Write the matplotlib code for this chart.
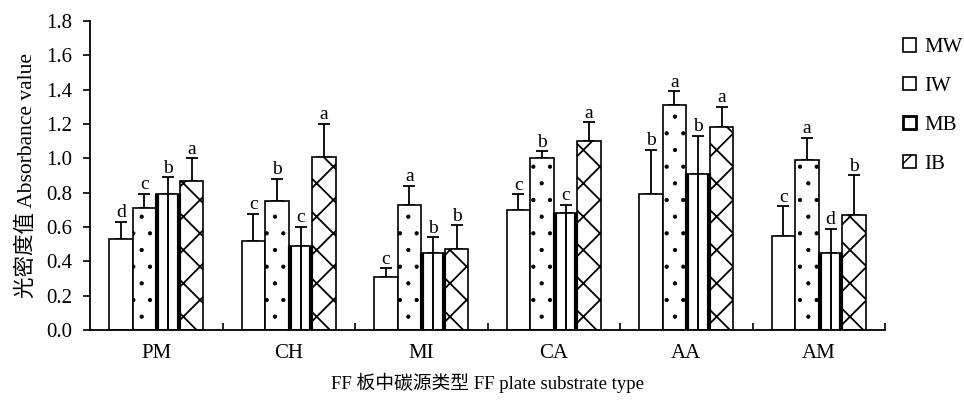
import numpy as np
import matplotlib
matplotlib.use('Agg')
import matplotlib.pyplot as plt
from matplotlib.patches import Patch

plt.rcParams['font.family'] = ['Liberation Serif', 'Noto Sans CJK SC']

# data
categories = ['PM', 'CH', 'MI', 'CA', 'AA', 'AM']
series = ['MW', 'IW', 'MB', 'IB']
mw = [0.53, 0.52, 0.31, 0.70, 0.79, 0.55]
iw = [0.71, 0.75, 0.73, 1.00, 1.31, 0.99]
mb = [0.79, 0.49, 0.45, 0.68, 0.91, 0.45]
ib = [0.87, 1.01, 0.47, 1.10, 1.18, 0.67]
mw_err = [0.10, 0.155, 0.05, 0.09, 0.26, 0.17]
iw_err = [0.085, 0.13, 0.11, 0.04, 0.08, 0.13]
mb_err = [0.10, 0.11, 0.09, 0.05, 0.22, 0.14]
ib_err = [0.13, 0.19, 0.14, 0.11, 0.12, 0.23]
mw_sig = ['d', 'c', 'c', 'c', 'b', 'c']
iw_sig = ['c', 'b', 'a', 'b', 'a', 'a']
mb_sig = ['b', 'c', 'b', 'c', 'b', 'd']
ib_sig = ['a', 'a', 'b', 'a', 'a', 'b']

values = [mw, iw, mb, ib]
errors = [mw_err, iw_err, mb_err, ib_err]
letters = [mw_sig, iw_sig, mb_sig, ib_sig]
hatches = ['', '.', '', 'x']
hatch_lw = [1.0, 0.6, 1.0, 1.3]
legend_hatches = ['', '', '', 'x']

fig = plt.figure(figsize=(9.64, 4.04), dpi=100)
ax = fig.add_axes([90/964, 74/404, 795/964, 309/404])

x = np.arange(len(categories))
width = 0.177
step = 0.178

for i in range(4):
    pos = x + (i - 1.5) * step
    with plt.rc_context({'hatch.linewidth': hatch_lw[i]}):
        ax.bar(pos, values[i], width, color='white', edgecolor='black',
               linewidth=1.2, hatch=hatches[i], zorder=2)
    if series[i] == 'MB':
        # thick side edges plus a middle line
        ax.vlines(pos - width / 2 + 0.008, 0, values[i], color='black', linewidth=3.0, zorder=4)
        ax.vlines(pos + width / 2 - 0.008, 0, values[i], color='black', linewidth=3.0, zorder=4)
        ax.vlines(pos, 0, values[i], color='black', linewidth=1.4, zorder=4)
    ax.errorbar(pos, values[i], yerr=[np.zeros(len(x)), errors[i]], fmt='none',
                ecolor='black', elinewidth=1.3, capsize=4.5, capthick=1.3, zorder=1)
    for p, v, e, s in zip(pos, values[i], errors[i], letters[i]):
        ax.annotate(s, (p, v + e), xytext=(0, 0.5), textcoords='offset points',
                    ha='center', va='bottom', fontsize=14)

ax.set_xlim(-0.5, len(categories) - 0.5)
ax.set_ylim(0, 1.8)
yt = np.arange(0, 1.81, 0.2)
ax.set_yticks(yt)
ax.set_yticklabels([f'{t:.1f}' for t in yt])
ax.set_xticks(x)
ax.set_xticklabels(categories)
ax.set_xticks(np.arange(0.5, len(categories), 1), minor=True)
ax.tick_params(axis='x', which='major', length=0, pad=10, labelsize=15)
ax.tick_params(axis='x', which='minor', direction='in', length=5, width=1.2)
ax.tick_params(axis='y', direction='out', length=5, width=1.2, labelsize=15, pad=7.5)

for sp in ['top', 'right']:
    ax.spines[sp].set_visible(False)
for sp in ['left', 'bottom']:
    ax.spines[sp].set_linewidth(1.3)

ax.set_ylabel('光密度值 Absorbance value', fontsize=15.5, labelpad=7)
ax.set_xlabel('FF 板中碳源类型 FF plate substrate type', fontsize=13.5, labelpad=7)

handles = []
for i in range(4):
    with plt.rc_context({'hatch.linewidth': 0.8}):
        handles.append(Patch(facecolor='white', edgecolor='black',
                             linewidth=2.0 if series[i] == 'MB' else 1.2,
                             hatch=legend_hatches[i], label=series[i]))
fig.legend(handles=handles, loc='upper left', bbox_to_anchor=(0.937, 0.905),
           frameon=False, fontsize=15, handlelength=0.6, handleheight=0.6,
           handletextpad=0.4, labelspacing=0.95, borderpad=0, borderaxespad=0)

fig.savefig('out.png', dpi=100)
